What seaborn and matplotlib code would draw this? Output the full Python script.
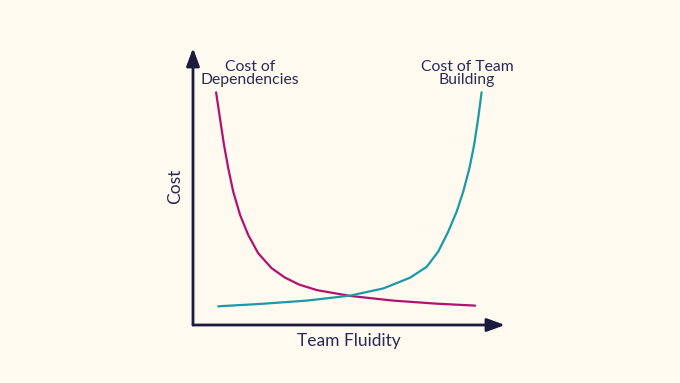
import matplotlib
matplotlib.use("Agg")
import matplotlib.pyplot as plt
import seaborn as sns
import pandas as pd

# Data (relative units)
dep_x = [7.4, 8.65, 9.94, 11.3, 12.9, 15.1, 17.7, 20.9, 25.2, 29.5, 34.0, 39.7, 50.3, 64.2, 78.1, 90.4]
dep_y = [84.0, 74.6, 65.0, 56.6, 48.1, 39.7, 32.5, 25.9, 20.5, 17.1, 14.6, 12.6, 10.5, 8.8, 7.7, 7.0]
team_x = [8.1, 21.5, 36.4, 50.3, 61.0, 69.6, 74.9, 78.6, 81.8, 84.5, 86.6, 88.6, 90.1, 91.4, 92.5]
team_y = [6.75, 7.6, 8.8, 10.6, 13.2, 17.1, 21.0, 26.5, 33.7, 40.9, 48.1, 56.6, 65.0, 74.6, 84.0]
series_names = ["Cost of\nDependencies", "Cost of Team\nBuilding"]
x_label = "Team Fluidity"
y_label = "Cost"

BG = "#fefaf0"
NAVY = "#1b1a3f"
TEXT = "#2a2a55"
MAGENTA = "#b4106e"
TEAL = "#1a9aa6"

df = pd.concat([
    pd.DataFrame({"x": dep_x, "y": dep_y, "s": series_names[0]}),
    pd.DataFrame({"x": team_x, "y": team_y, "s": series_names[1]}),
])

sns.set_theme(style="white")
plt.rcParams["font.family"] = ["Lato", "DejaVu Sans"]

fig = plt.figure(figsize=(6.8, 3.83), dpi=100, facecolor=BG)
ax = fig.add_axes([193 / 680, 58 / 383, 312 / 680, 277 / 383])
ax.set_facecolor(BG)

sns.lineplot(data=df, x="x", y="y", hue="s", estimator=None, sort=False,
             palette=[MAGENTA, TEAL], linewidth=1.6, legend=False, ax=ax)

ax.set_xlim(0, 100)
ax.set_ylim(0, 100)
for sp in ax.spines.values():
    sp.set_visible(False)
ax.set_xticks([])
ax.set_yticks([])

arrow = dict(arrowstyle="-|>,head_length=0.9,head_width=0.33", color=NAVY, lw=2.0,
             shrinkA=0, shrinkB=0)
ax.annotate("", xy=(1.0, 0.0), xytext=(0.0, 0.0), xycoords="axes fraction",
            arrowprops=arrow, annotation_clip=False)
ax.annotate("", xy=(0.0, 1.0), xytext=(0.0, 0.0), xycoords="axes fraction",
            arrowprops=arrow, annotation_clip=False)

ax.text(18.3, 90.8, series_names[0], ha="center", va="center", fontsize=11.3,
        color=TEXT, linespacing=0.95)
ax.text(87.8, 90.8, series_names[1], ha="center", va="center", fontsize=11.3,
        color=TEXT, linespacing=0.95)

ax.set_xlabel(x_label, fontsize=12.5, color=TEXT, labelpad=6)
ax.set_ylabel(y_label, fontsize=12.5, color=TEXT, labelpad=7)

fig.savefig("out.png", dpi=100, facecolor=BG)
